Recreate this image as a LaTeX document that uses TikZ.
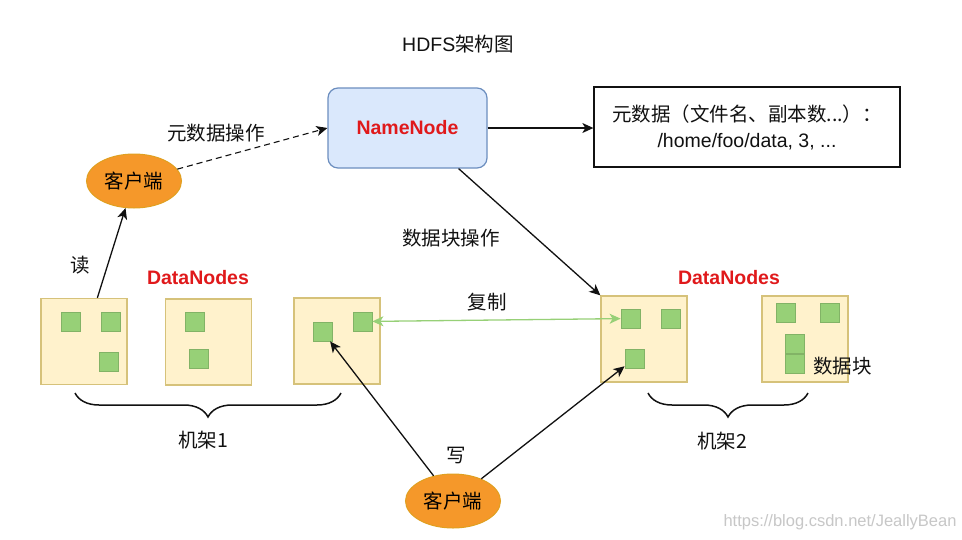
\documentclass[tikz,border=0pt]{standalone}
\usepackage{fontspec}
\setmainfont{Liberation Sans}
\newfontfamily\cjk{Noto Sans CJK SC}
\usetikzlibrary{arrows.meta,decorations.pathreplacing,shapes.geometric}
\definecolor{ink}{HTML}{111111}
\definecolor{nodered}{HTML}{E0191B}
\definecolor{nnfill}{HTML}{DAE8FC}
\definecolor{nndraw}{HTML}{6C8EBF}
\definecolor{dnfill}{HTML}{FFF2CC}
\definecolor{dndraw}{HTML}{D6C27A}
\definecolor{blkfill}{HTML}{97D077}
\definecolor{blkdraw}{HTML}{82B366}
\definecolor{clfill}{HTML}{F5982A}
\definecolor{cldraw}{HTML}{E0A020}

\begin{document}
\begin{tikzpicture}[x=1pt,y=-1pt,font=\fontsize{19.5}{23}\selectfont]
  \tikzset{
    datanode/.style={draw=dndraw,fill=dnfill,line width=1.3pt,minimum width=86pt,minimum height=86pt,inner sep=0pt},
    block/.style={draw=blkdraw,fill=blkfill,line width=.8pt,minimum size=19pt,inner sep=0pt},
    client/.style={ellipse,draw=cldraw,fill=clfill,line width=1pt,minimum width=95pt,minimum height=54pt,inner sep=0pt,font=\fontsize{19.5}{23}\cjk},
    flow/.style={ink,line width=1.3pt,-{Stealth[length=11pt,width=10pt,inset=3pt]}},
    tag/.style={text=ink,font=\fontsize{19.5}{23}\cjk},
    redtitle/.style={text=nodered,font=\fontsize{19.5}{23}\selectfont\bfseries},
    rack/.style={ink,line width=1.5pt,decorate,decoration={brace,mirror,amplitude=24pt}}
  }
  \useasboundingbox[fill=white] (0,0) rectangle (962,539);

  % Title and NameNode.
  \node[text=ink] (title) at (458,44) {HDFS{\cjk 架构图}};
  \node[draw=nndraw,fill=nnfill,line width=1.2pt,rounded corners=10pt,minimum width=159pt,minimum height=80pt,redtitle] (nn) at (407.5,128) {NameNode};
  \node[draw=ink,line width=1.3pt,minimum width=306pt,minimum height=80pt,align=center,text=ink,font=\fontsize{19.5}{26}\selectfont] (meta) at (747,127)
    {{\cjk 元数据（文件名、副本数...）：}\\/home/foo/data, 3, ...};
  \draw[flow] (nn.east) -- (nn.east -| meta.west);

  % Reading client.
  \node[client] (c1) at (134,181) {客户端};
  \draw[flow,line width=1.1pt,dash pattern=on 6pt off 4pt] (c1) -- (nn.west);
  \node[tag] (mdop) at (216,133) {元数据操作};

  % DataNodes on rack 1.
  \node[redtitle] (dns1) at (198,278) {DataNodes};
  \node[datanode] (dn1) at (84,341.5) {};
  \node[datanode] (dn2) at (208.5,342) {};
  \node[datanode] (dn3) at (337,341) {};
  \node[block] (b11) at (70.5,321.5) {};
  \node[block] (b12) at (110.5,321.5) {};
  \node[block] (b13) at (108.5,361.5) {};
  \node[block] (b21) at (194.5,321.5) {};
  \node[block] (b22) at (198.5,358.5) {};
  \node[block] (b31) at (322.5,331.5) {};
  \node[block] (b32) at (362.5,321.5) {};
  \draw[flow] ([xshift=57pt]dn1.north west) -- (c1);
  \node[tag] (rd) at (80,265) {读};

  % DataNodes on rack 2.
  \node[redtitle] (dns2) at (729,278) {DataNodes};
  \node[datanode] (dn4) at (644,339) {};
  \node[datanode] (dn5) at (805,339) {};
  \node[block] (b41) at (630.5,318.5) {};
  \node[block] (b42) at (670.5,318.5) {};
  \node[block] (b43) at (634.5,358.5) {};
  \node[block] (b51) at (785.5,312.5) {};
  \node[block] (b52) at (829.5,312.5) {};
  \node[block] (b53) at (794.5,343.5) {};
  \node[block] (b54) at (794.5,363.5) {};
  \node[tag] (blk) at (842.5,366) {数据块};

  \draw[flow] ([xshift=-29pt]nn.south east) -- (dn4.north west);
  \node[tag] (bkop) at (451,238) {数据块操作};
  \draw[blkfill,line width=1.3pt,{Stealth[length=11pt,width=10pt,inset=3pt]}-{Stealth[length=11pt,width=10pt,inset=3pt]}] (b32) -- (b41);
  \node[tag] (copy) at (487,302) {复制};

  % Writing client.
  \node[client] (c2) at (453,501) {客户端};
  \draw[flow] (c2) -- (b31);
  \draw[flow] (c2) -- (b43);
  \node[tag] (wr) at (456,456) {写};

  % Racks.
  \draw[rack] (75,393) -- (341,393);
  \draw[rack] (648,393) -- (808,393);
  \node[tag] (r1) at (203,440) {机架1};
  \node[tag] (r2) at (722,441) {机架2};

  \node[text=black!22,font=\fontsize{16.5}{20}\selectfont] (wm) at (840,522) {https://blog.csdn.net/JeallyBean};
\end{tikzpicture}
\end{document}
